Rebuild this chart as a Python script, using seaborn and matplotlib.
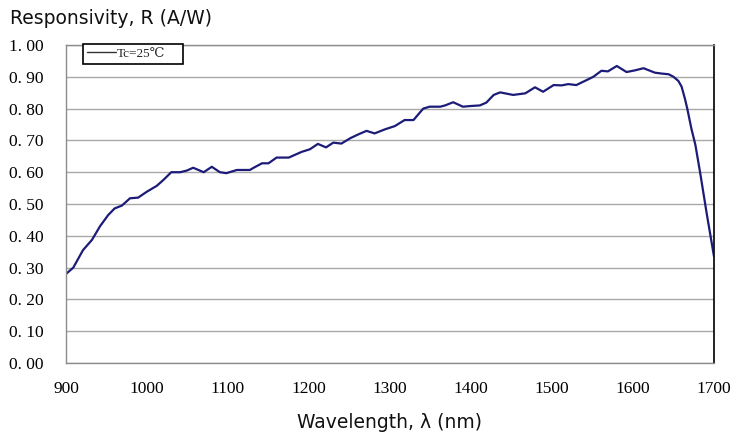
#!/usr/bin/env python3
"""
InGaAs photodiode spectral responsivity curve (Tc = 25 C).
"""

import matplotlib
matplotlib.use("Agg")
import matplotlib.pyplot as plt
from matplotlib.ticker import FuncFormatter
import pandas as pd
import seaborn as sns

# %% Data
wavelength_nm = [900, 909, 921, 932, 942, 952, 960, 969, 979, 989, 1000, 1012,
                 1020, 1030, 1041, 1049, 1057, 1070, 1080, 1090, 1098, 1111,
                 1127, 1131, 1142, 1150, 1160, 1175, 1191, 1201, 1211, 1221,
                 1230, 1240, 1251, 1261, 1271, 1281, 1294, 1306, 1318, 1329,
                 1341, 1349, 1362, 1368, 1378, 1390, 1399, 1411, 1419, 1428,
                 1436, 1452, 1467, 1479, 1489, 1502, 1512, 1520, 1530, 1543,
                 1551, 1561, 1569, 1580, 1592, 1602, 1613, 1627, 1636, 1644,
                 1650, 1656, 1660, 1664, 1667, 1672, 1677, 1683, 1691, 1700]
responsivity = [0.280, 0.300, 0.355, 0.387, 0.430, 0.465, 0.486, 0.495, 0.518,
                0.520, 0.539, 0.557, 0.575, 0.600, 0.600, 0.605, 0.614, 0.600,
                0.617, 0.600, 0.597, 0.607, 0.607, 0.613, 0.628, 0.628, 0.646,
                0.646, 0.664, 0.672, 0.689, 0.678, 0.693, 0.690, 0.707, 0.719,
                0.730, 0.722, 0.735, 0.745, 0.764, 0.764, 0.800, 0.806, 0.806,
                0.810, 0.820, 0.806, 0.808, 0.810, 0.819, 0.843, 0.851, 0.843,
                0.848, 0.867, 0.853, 0.874, 0.873, 0.877, 0.874, 0.890, 0.900,
                0.919, 0.917, 0.934, 0.915, 0.920, 0.927, 0.913, 0.910, 0.908,
                0.900, 0.887, 0.869, 0.832, 0.800, 0.738, 0.686, 0.597, 0.470,
                0.335]
series_label = "Tc=25\u2103"
x_ticks = [900, 1000, 1100, 1200, 1300, 1400, 1500, 1600, 1700]
y_ticks = [0.0, 0.1, 0.2, 0.3, 0.4, 0.5, 0.6, 0.7, 0.8, 0.9, 1.0]

df = pd.DataFrame({"wavelength": wavelength_nm, "R": responsivity})

# %% Style
sns.set_theme(style="white")
serif = ["Liberation Serif", "DejaVu Serif", "Noto Sans CJK JP"]
plt.rcParams["font.family"] = ["DejaVu Sans"]

fig = plt.figure(figsize=(7.4, 4.43), dpi=100)
ax = fig.add_axes([66 / 740, 1 - 363 / 443, 648 / 740, 318 / 443])

sns.lineplot(data=df, x="wavelength", y="R", ax=ax, color="#1c1c78",
             linewidth=1.6, label=series_label)

ax.set_xlim(900, 1700)
ax.set_ylim(0, 1.0)
ax.set_xticks(x_ticks)
ax.set_yticks(y_ticks)
ax.yaxis.set_major_formatter(FuncFormatter(lambda v, _: f"{v:.2f}".replace(".", ". ")))

ax.grid(axis="y", color="#a8a8a8", linewidth=1.0)
ax.grid(axis="x", visible=False)

for side in ("left", "bottom", "top"):
    ax.spines[side].set_color("#8c8c8c")
    ax.spines[side].set_linewidth(1.0)
ax.spines["right"].set_color("#111111")
ax.spines["right"].set_linewidth(1.3)

ax.tick_params(axis="x", direction="in", length=5, width=1, color="#8c8c8c",
               pad=13, labelsize=12.5, labelcolor="black")
ax.tick_params(axis="y", length=0, pad=16, labelsize=12.5, labelcolor="black")
for lab in ax.get_xticklabels() + ax.get_yticklabels():
    lab.set_family(serif)

ax.set_xlabel("")
ax.set_ylabel("")
fig.text(10 / 740, 1 - 18 / 443, "Responsivity, R (A/W)", fontsize=13.5,
         ha="left", va="center", color="#111111")
fig.text(390 / 740, 1 - 422 / 443, "Wavelength, \u03bb (nm)", fontsize=13.5,
         ha="center", va="center", color="#111111")

leg = ax.legend(loc="upper left", bbox_to_anchor=(17 / 648, 1 - 5 / 318, 100 / 648, 0.02),
                mode="expand", frameon=True, fancybox=False, framealpha=1,
                edgecolor="black", borderpad=0.3, handlelength=2.2,
                handletextpad=0.1, borderaxespad=0,
                prop={"family": serif, "size": 9.5})
leg.get_frame().set_linewidth(1.2)
for h in leg.get_lines():
    h.set_linewidth(1.0)
    h.set_color("#333333")

fig.savefig("out.png", dpi=100)
